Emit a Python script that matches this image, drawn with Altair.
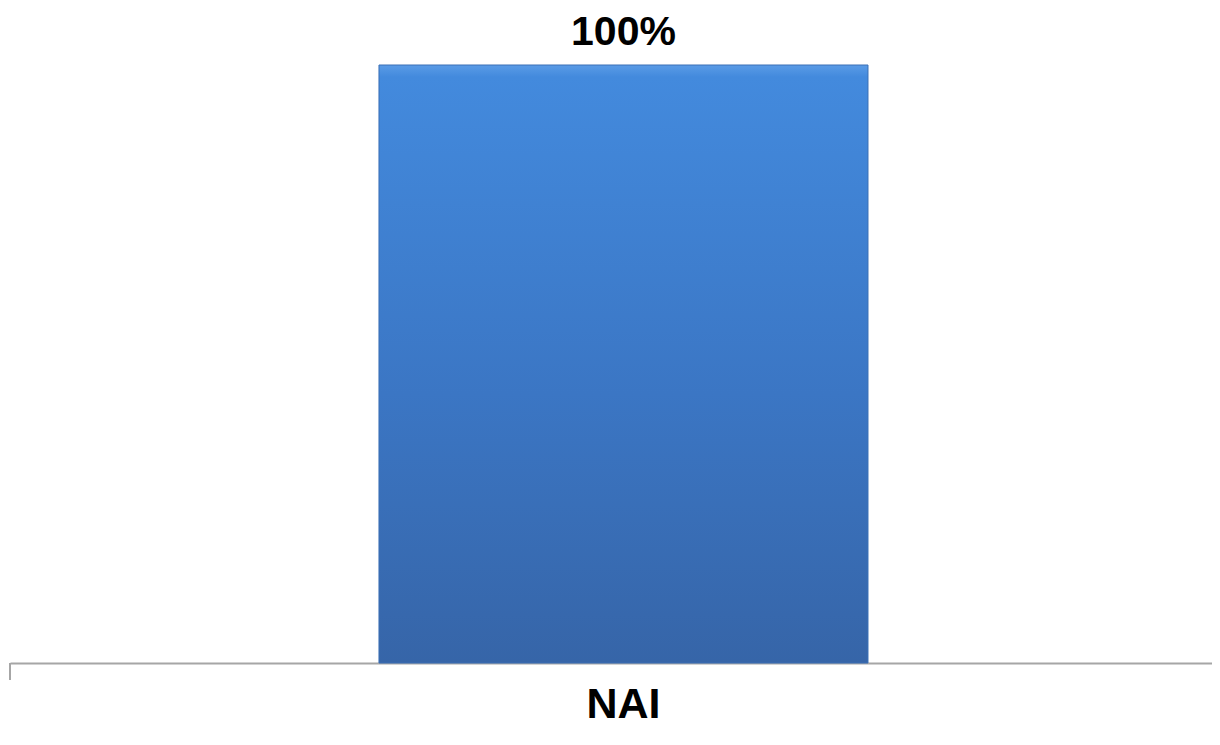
import altair as alt
import pandas as pd

categories = ["NAI"]
values = [100]
labels = ["100%"]

df = pd.DataFrame({"cat": categories, "val": values, "lab": labels})

FONT = "Liberation Sans"

x_enc = alt.X(
    "cat:N",
    scale=alt.Scale(paddingInner=0, paddingOuter=0.729, align=0.5175),
    axis=alt.Axis(
        title=None, ticks=False, labelAngle=0, labelFont=FONT, labelFontSize=43,
        labelFontWeight="bold", labelColor="#000000", labelPadding=20,
        domainColor="#a6a6a6", domainWidth=2, grid=False,
    ),
)
y_enc = alt.Y("val:Q", scale=alt.Scale(domain=[0, 100]), axis=None)

bars = alt.Chart(df).mark_bar(
    color=alt.Gradient(
        gradient="linear",
        stops=[
            alt.GradientStop(color="#5a9be6", offset=0),
            alt.GradientStop(color="#438add", offset=0.02),
            alt.GradientStop(color="#3b76c4", offset=0.55),
            alt.GradientStop(color="#3665a8", offset=1),
        ],
        x1=0, x2=0, y1=0, y2=1,
    ),
    stroke="#3a6fb5",
    strokeWidth=1,
).encode(x=x_enc, y=y_enc)

text = alt.Chart(df).mark_text(
    font=FONT, fontSize=41, fontWeight="bold", color="#000000",
    baseline="alphabetic", dy=-20,
).encode(x=x_enc, y=y_enc, text="lab:N")

tick = alt.Chart(df).mark_rule(color="#a6a6a6", strokeWidth=2).encode(
    x=alt.value(0), y=alt.value(598), y2=alt.value(615)
)

chart = alt.layer(bars, text, tick).properties(
    width=1202, height=598,
    background="white",
    autosize=alt.AutoSizeParams(type="none"),
    padding={"left": 2, "top": 57, "right": 0, "bottom": 65},
).configure_view(stroke=None)

chart.save("out.html", embed_options={"renderer": "svg", "actions": False})
